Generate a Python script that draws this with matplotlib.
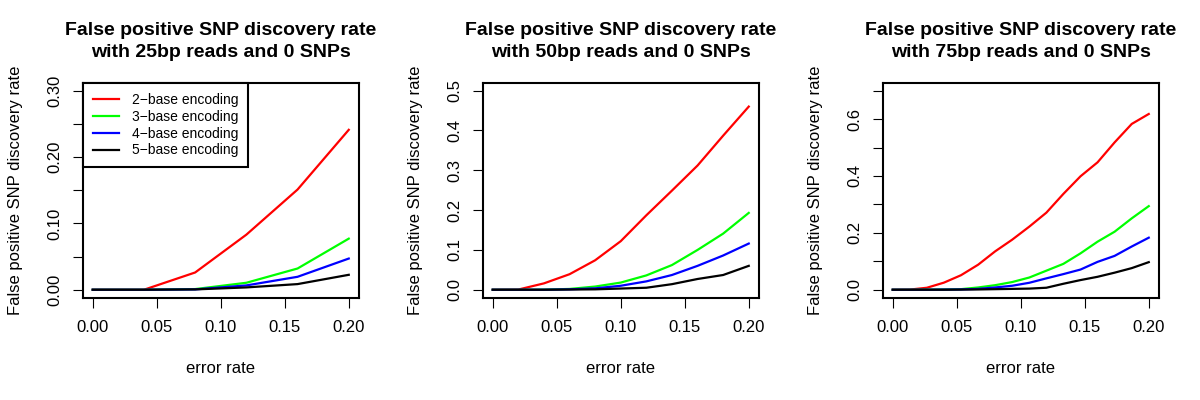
import matplotlib
matplotlib.use('Agg')
import matplotlib.pyplot as plt

plt.rcParams['font.family'] = ['Liberation Sans', 'DejaVu Sans']

# error rates: k errors per read of length L
x25 = [0.0, 0.04, 0.08, 0.12, 0.16, 0.20]
x50 = [0.0, 0.02, 0.04, 0.06, 0.08, 0.10, 0.12, 0.14, 0.16, 0.18, 0.20]
x75 = [0.0, 0.0133, 0.0267, 0.04, 0.0533, 0.0667, 0.08, 0.0933,
       0.1067, 0.12, 0.1333, 0.1467, 0.16, 0.1733, 0.1867, 0.20]

# false positive rates, per encoding
red25 = [0.0, 0.0, 0.026, 0.083, 0.151, 0.241]
green25 = [0.0, 0.0, 0.001, 0.0105, 0.032, 0.077]
blue25 = [0.0, 0.0, 0.0005, 0.0065, 0.0195, 0.047]
black25 = [0.0, 0.0, 0.0005, 0.0035, 0.0085, 0.0225]

red50 = [0.0, 0.0005, 0.016, 0.039, 0.074, 0.122, 0.187, 0.249, 0.312, 0.387, 0.46]
green50 = [0.0, 0.0, 0.0003, 0.002, 0.008, 0.018, 0.036, 0.062, 0.100, 0.141, 0.193]
blue50 = [0.0, 0.0, 0.0, 0.001, 0.0035, 0.010, 0.021, 0.037, 0.060, 0.086, 0.116]
black50 = [0.0, 0.0, 0.0, 0.0005, 0.001, 0.003, 0.005, 0.014, 0.027, 0.037, 0.060]

red75 = [0.0, 0.0005, 0.007, 0.025, 0.051, 0.088, 0.135, 0.176, 0.222, 0.271,
         0.337, 0.399, 0.448, 0.518, 0.583, 0.618]
green75 = [0.0, 0.0, 0.0005, 0.001, 0.002, 0.008, 0.016, 0.027, 0.043, 0.067,
           0.091, 0.128, 0.169, 0.204, 0.251, 0.294]
blue75 = [0.0, 0.0, 0.0, 0.0005, 0.001, 0.003, 0.008, 0.014, 0.0245, 0.040,
          0.055, 0.071, 0.098, 0.119, 0.152, 0.183]
black75 = [0.0, 0.0, 0.0, 0.0, 0.0005, 0.001, 0.002, 0.003, 0.004, 0.007,
           0.021, 0.034, 0.0455, 0.060, 0.076, 0.097]

labels = ['2\u2212base encoding', '3\u2212base encoding',
          '4\u2212base encoding', '5\u2212base encoding']
colors = ['#FF0000', '#00FF00', '#0000FF', '#000000']

read_lengths = ['25bp', '50bp', '75bp']
xs = [x25, x50, x75]
series = [[red25, green25, blue25, black25],
          [red50, green50, blue50, black50],
          [red75, green75, blue75, black75]]
ymax = [0.3, 0.5, 0.7]
yticks = [[0.0, 0.05, 0.10, 0.15, 0.20, 0.25, 0.30],
          [0.0, 0.1, 0.2, 0.3, 0.4, 0.5],
          [0.0, 0.1, 0.2, 0.3, 0.4, 0.5, 0.6, 0.7]]
ytick_labels = [['0.00', '', '0.10', '', '0.20', '', '0.30'],
                ['0.0', '0.1', '0.2', '0.3', '0.4', '0.5'],
                ['0.0', '', '0.2', '', '0.4', '', '0.6', '']]
xticks = [0.0, 0.05, 0.10, 0.15, 0.20]
xtick_labels = ['0.00', '0.05', '0.10', '0.15', '0.20']

fig = plt.figure(figsize=(12, 4), dpi=100)
W, H = 1200.0, 400.0
ax_w, ax_h = 276.5, 215.0
ax_top = 82.7

for i in range(3):
    left = 82.5 + 400 * i
    ax = fig.add_axes([left / W, 1 - (ax_top + ax_h) / H, ax_w / W, ax_h / H])
    for ys, c, lab in zip(series[i], colors, labels):
        ax.plot(xs[i], ys, color=c, lw=1.6, label=lab, solid_joinstyle='round')
    ax.set_xlim(-0.008, 0.208)
    ax.set_ylim(-0.04 * ymax[i], 1.04 * ymax[i])
    ax.set_xticks(xticks)
    ax.set_xticklabels(xtick_labels)
    ax.set_yticks(yticks[i])
    ax.set_yticklabels(ytick_labels[i], rotation=90, va='center')
    ax.tick_params(direction='out', length=7.2, width=0.8, labelsize=12)
    ax.tick_params(axis='x', pad=8.8)
    ax.tick_params(axis='y', pad=7.3)
    for sp in ax.spines.values():
        sp.set_linewidth(1.5)
    ax.set_title('False positive SNP discovery rate\nwith %s reads and 0 SNPs' % read_lengths[i],
                 fontsize=14, fontweight='bold', pad=18.3, linespacing=1.38)
    cx = (left + ax_w / 2) / W
    fig.text(cx, 1 - 368.2 / H, 'error rate', ha='center', va='center', fontsize=12)
    fig.text((15.5 + 400 * i) / W, 1 - (ax_top + ax_h / 2) / H,
             'False positive SNP discovery rate', rotation=90,
             ha='center', va='center', fontsize=12)
    if i == 0:
        leg = ax.legend(loc='upper left', bbox_to_anchor=(0, 1), borderaxespad=0,
                        fontsize=10, handlelength=1.92, handletextpad=0.9,
                        borderpad=0.72, labelspacing=0.21, fancybox=False,
                        framealpha=1, edgecolor='black')
        leg.get_frame().set_linewidth(1.5)

fig.savefig('out.png', dpi=100)
